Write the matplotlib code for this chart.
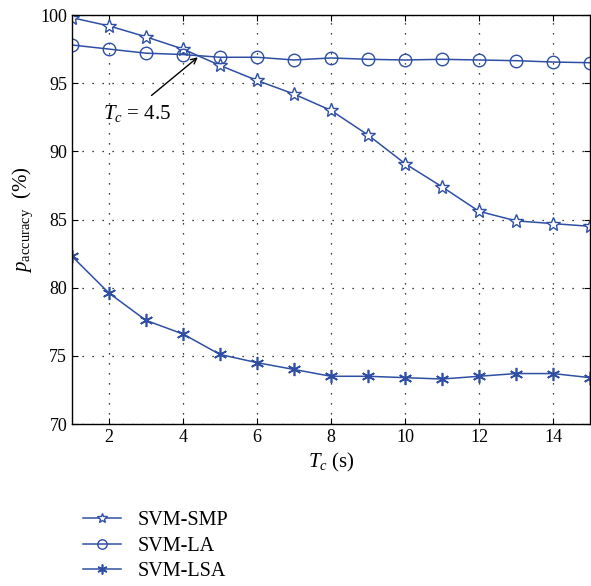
import numpy as np
import matplotlib
matplotlib.use("Agg")
import matplotlib.pyplot as plt

plt.rcParams["font.family"] = ["Liberation Serif", "DejaVu Serif"]
plt.rcParams["mathtext.fontset"] = "custom"
plt.rcParams["mathtext.rm"] = "Liberation Serif"
plt.rcParams["mathtext.it"] = "Liberation Serif:italic"

tc = np.arange(1, 16)
svm_smp = [99.8, 99.2, 98.4, 97.5, 96.3, 95.2, 94.2, 93.0, 91.2, 89.1, 87.4, 85.6, 84.9, 84.7, 84.5]
svm_la = [97.8, 97.5, 97.2, 97.1, 96.9, 96.9, 96.7, 96.85, 96.75, 96.7, 96.75, 96.7, 96.65, 96.55, 96.5]
svm_lsa = [82.3, 79.6, 77.6, 76.6, 75.1, 74.5, 74.0, 73.5, 73.5, 73.4, 73.3, 73.5, 73.7, 73.7, 73.4]

BLUE = "#2e4fa3"

fig = plt.figure(figsize=(5.91, 5.86), dpi=100)
ax = fig.add_axes([72 / 591, 1 - 424 / 586, (590 - 72) / 591, (424 - 15) / 586])

ax.plot(tc, svm_smp, color=BLUE, lw=1.1, marker="*", ms=10.5, mfc="white", mec=BLUE, mew=1.0, label="SVM-SMP")
ax.plot(tc, svm_la, color=BLUE, lw=1.1, marker="o", ms=9, mfc="none", mec=BLUE, mew=1.0, label="SVM-LA")
ax.plot(tc, svm_lsa, color=BLUE, lw=1.1, marker=(6, 2, 0), ms=9.5, mec=BLUE, mew=1.2, label="SVM-LSA")

ax.set_xlim(1, 15)
ax.set_ylim(70, 100)
ax.set_xticks([2, 4, 6, 8, 10, 12, 14])
ax.set_yticks([70, 75, 80, 85, 90, 95, 100])
ax.grid(True, color="black", ls=(0, (1, 7)), lw=0.9)
ax.tick_params(direction="in", length=4, labelsize=13, top=True, right=True, colors="black")
for s in ax.spines.values():
    s.set_linewidth(1.0)

ax.set_xlabel("$T_c$ (s)", fontsize=15)
ax.set_ylabel(r"$p_{\mathrm{accuracy}}$  (%)", fontsize=15)

# annotation of the crossing point
ax.annotate("", xy=(4.4, 96.9), xytext=(3.15, 94.1),
            arrowprops=dict(arrowstyle="->", color="black", lw=1.0, shrinkA=0, shrinkB=0))
ax.text(1.85, 92.8, "$T_c$ = 4.5", fontsize=15, ha="left", va="center")

handles, labels = ax.get_legend_handles_labels()
fig.legend(handles, labels, loc="lower left", bbox_to_anchor=(65 / 591, -0.022), frameon=False,
           fontsize=14.5, handlelength=1.9, handletextpad=0.8, labelspacing=0.3, markerscale=0.75)

fig.savefig("out.png", dpi=100)
